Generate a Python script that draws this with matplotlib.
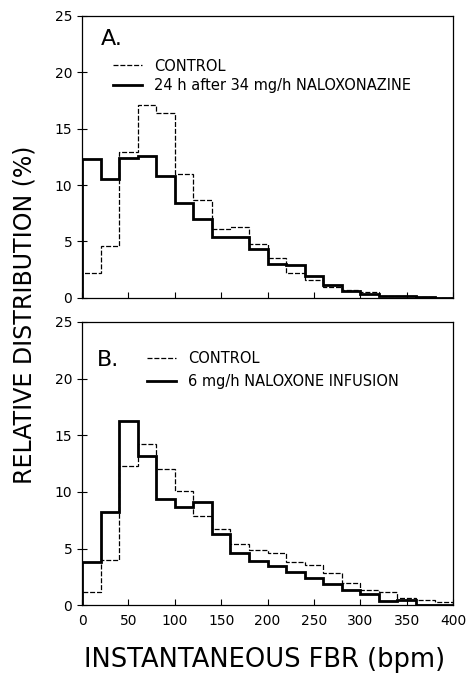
import numpy as np
import matplotlib.pyplot as plt

edges = np.arange(0, 420, 20)

# panel A
ctrl_a = [2.2, 4.6, 12.9, 17.1, 16.4, 11.0, 8.7, 6.1, 6.3, 4.8,
          3.5, 2.2, 1.6, 1.0, 0.7, 0.5, 0.2, 0.2, 0.1, 0.0]
nalz_a = [12.3, 10.5, 12.4, 12.6, 10.8, 8.4, 7.0, 5.4, 5.4, 4.3,
          3.0, 2.9, 1.95, 1.15, 0.6, 0.35, 0.15, 0.15, 0.1, 0.0]

# panel B
ctrl_b = [1.2, 4.0, 12.3, 14.2, 12.0, 10.1, 7.9, 6.7, 5.4, 4.85,
          4.6, 3.8, 3.55, 2.8, 2.0, 1.35, 1.15, 0.65, 0.45, 0.25]
nalx_b = [3.8, 8.2, 16.3, 13.2, 9.4, 8.7, 9.1, 6.3, 4.65, 3.9,
          3.45, 2.9, 2.4, 1.9, 1.3, 1.0, 0.4, 0.5, 0.0, 0.0]

plt.rcParams['font.family'] = ['DejaVu Sans']

fig = plt.figure(figsize=(4.69, 6.8), dpi=100)
ax1 = fig.add_axes([0.175, 0.562, 0.791, 0.4145])
ax2 = fig.add_axes([0.175, 0.110, 0.791, 0.4165])

dash = (0, (4, 1.5))


def style(ax):
    ax.set_xlim(0, 400)
    ax.set_ylim(0, 25)
    ax.set_xticks(np.arange(0, 401, 50))
    ax.set_yticks(np.arange(0, 26, 5))
    ax.tick_params(axis='x', direction='in', length=4, width=0.8, labelsize=10, pad=6)
    ax.tick_params(axis='y', direction='inout', length=7, width=0.8, labelsize=10)
    for s in ax.spines.values():
        s.set_linewidth(0.9)


ax1.stairs(ctrl_a, edges, color='black', lw=0.9, ls=dash, label='CONTROL')
ax1.stairs(nalz_a, edges, color='black', lw=2.0, label='24 h after 34 mg/h NALOXONAZINE')
style(ax1)
ax1.set_xticklabels([])
ax1.text(0.05, 0.955, 'A.', transform=ax1.transAxes, fontsize=16, va='top')
ax1.legend(loc='upper left', bbox_to_anchor=(0.084, 0.849), frameon=False, fontsize=10.5,
           handlelength=2.0, handletextpad=0.8, labelspacing=0.3, borderpad=0,
           borderaxespad=0)

ax2.stairs(ctrl_b, edges, color='black', lw=0.9, ls=dash, label='CONTROL')
ax2.stairs(nalx_b, edges, color='black', lw=2.0, label='6 mg/h NALOXONE INFUSION')
style(ax2)
ax2.text(0.04, 0.90, 'B.', transform=ax2.transAxes, fontsize=16, va='top')
ax2.legend(loc='upper left', bbox_to_anchor=(0.175, 0.896), frameon=False, fontsize=10.5,
           handlelength=2.0, handletextpad=0.8, labelspacing=0.55, borderpad=0,
           borderaxespad=0)

fig.text(0.052, 0.537, 'RELATIVE DISTRIBUTION (%)', rotation=90, ha='center', va='center',
         fontsize=17)
fig.text(0.565, 0.029, 'INSTANTANEOUS FBR (bpm)', ha='center', va='center',
         fontsize=18.5)

fig.savefig('out.png', dpi=100)
